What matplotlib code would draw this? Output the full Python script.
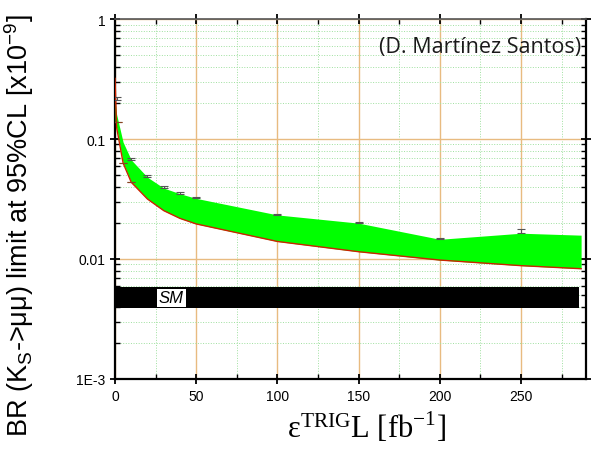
import numpy as np
from matplotlib import pyplot as plt
from matplotlib.ticker import LogLocator, FixedLocator, NullFormatter, FixedFormatter

# band: upper / lower edge of expected limit
x_band = [0, 1, 5, 10, 20, 30, 40, 50, 100, 150, 200, 250, 287]
upper = [0.21, 0.16, 0.094, 0.067, 0.048, 0.039, 0.035, 0.032, 0.0233, 0.0199, 0.0146, 0.0164, 0.0158]
lower = [0.14, 0.125, 0.063, 0.0436, 0.0316, 0.0253, 0.0218, 0.0196, 0.0140, 0.0115, 0.0098, 0.0088, 0.0083]
red_start = 0.32

# error caps on upper edge
x_err = [1, 10, 20, 30, 40, 50, 100, 150, 200, 250]
y_err = [0.21, 0.067, 0.048, 0.039, 0.035, 0.032, 0.0233, 0.0199, 0.0146, 0.0164]
e_err = [0.012, 0.003, 0.002, 0.0015, 0.001, 0.0008, 0.0006, 0.0005, 0.0003, 0.0014]
x_err_lo = [2, 5, 10]
y_err_lo = [0.138, 0.063, 0.0436]

# SM band
sm_x = [0, 286]
sm_lo, sm_hi = 0.0039, 0.0058

fig = plt.figure(figsize=(5.94, 4.56), dpi=100)
ax = fig.add_axes([0.1936, 0.1667, 0.7929, 0.7894])

ax.set_yscale('log')
ax.set_xlim(0, 290)
ax.set_ylim(1e-3, 1)

ax.fill_between(x_band, lower, upper, color='#00ff00', lw=0, zorder=3)
ax.plot([0] + x_band[1:], [red_start] + lower[1:], color='#cc2200', lw=1.0, zorder=4)
ax.errorbar(x_err, y_err, yerr=[np.zeros(len(e_err)), e_err], fmt='none',
            ecolor='#555555', elinewidth=0.8, capsize=3, capthick=0.8, zorder=5)
ax.errorbar(x_err_lo, y_err_lo, yerr=[[0.0] * 3, [0.0] * 3], fmt='none',
            ecolor='#884422', elinewidth=0.8, capsize=3, capthick=0.8, zorder=5)

ax.fill_between(sm_x, [sm_lo, sm_lo], [sm_hi, sm_hi], color='black', lw=0, zorder=3)
ax.text(27, np.sqrt(sm_lo * sm_hi), 'SM', style='italic', fontsize=12,
        family='Liberation Sans', va='center', ha='left', zorder=6,
        bbox=dict(facecolor='white', edgecolor='none', pad=1.2))

ax.text(0.99, 0.925, '(D. Martínez Santos)', transform=ax.transAxes,
        ha='right', va='center', fontsize=15.5, family='Open Sans', color='#1a1a1a')

# grids
ax.xaxis.set_major_locator(FixedLocator([0, 50, 100, 150, 200, 250]))
ax.xaxis.set_minor_locator(FixedLocator([25, 75, 125, 175, 225, 275]))
ax.yaxis.set_major_locator(FixedLocator([1e-3, 1e-2, 1e-1, 1]))
ax.yaxis.set_major_formatter(FixedFormatter(['1E-3', '0.01', '0.1', '1']))
ax.yaxis.set_minor_locator(LogLocator(base=10, subs=np.arange(2, 10)))
ax.yaxis.set_minor_formatter(NullFormatter())
ax.grid(True, which='major', color='#e8bb80', lw=1.0, ls='-', zorder=1)
ax.grid(True, which='minor', color='#9fe09f', lw=0.7, ls=':', zorder=1)
ax.set_axisbelow(True)

ax.tick_params(which='major', direction='inout', length=7, width=1.3,
               top=True, right=True, labelsize=10)
ax.tick_params(which='minor', direction='in', length=3.5, width=1.0,
               top=True, right=True)
for lab in ax.get_xticklabels() + ax.get_yticklabels():
    lab.set_family('Liberation Sans')
for side in ['left', 'bottom', 'right']:
    ax.spines[side].set_linewidth(1.6)
ax.spines['top'].set_linewidth(1.2)
ax.spines['top'].set_color('#555555')

fig.text(0.032, 0.505, r'BR (K$_\mathregular{S}$->μμ) limit at 95%CL [x10$^\mathregular{-9}$]',
         rotation=90, ha='center', va='center', fontsize=19.5, family='Liberation Sans')
ax.set_xlabel(r'$\mathregular{\varepsilon^{TRIG}}$L [fb$^\mathregular{-1}$]',
              fontsize=22, family='Liberation Serif', labelpad=0)
ax.xaxis.set_label_coords(0.535, -0.085)

fig.savefig('out.png', dpi=100)
